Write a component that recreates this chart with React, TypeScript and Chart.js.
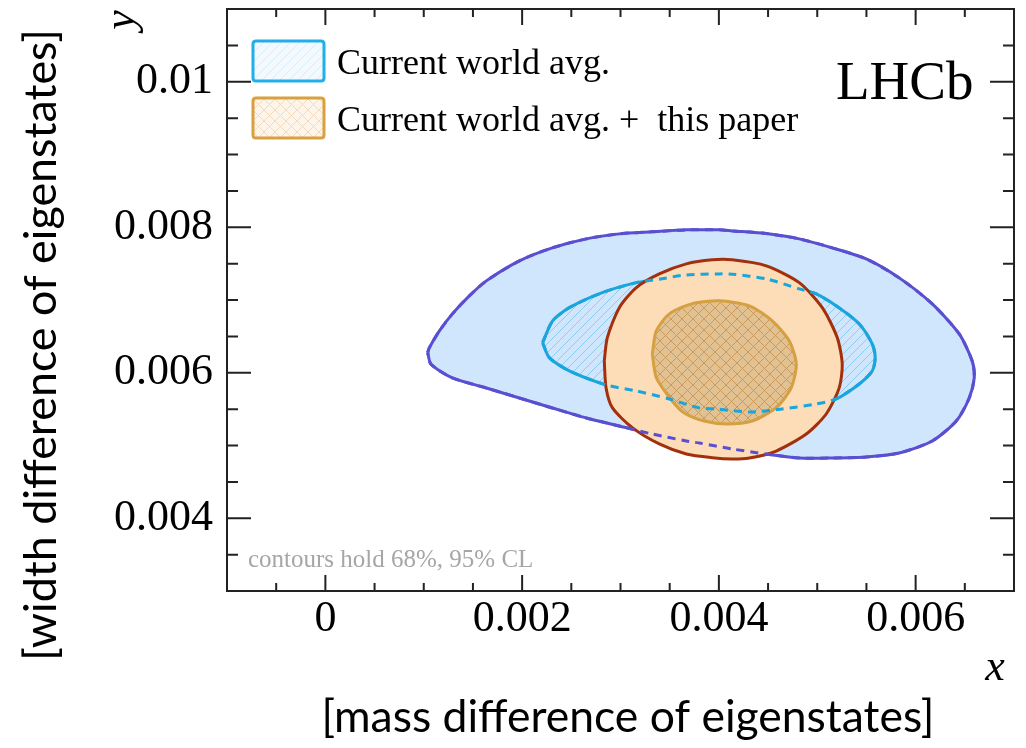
import React, { useEffect, useRef } from 'react';
import { Chart, registerables } from 'chart.js';

Chart.register(...registerables);

// ---- axes ----
const X_MIN = -0.001;
const X_MAX = 0.007;
const Y_MIN = 0.003;
const Y_MAX = 0.011;
const X_TICK_VALUES = [0, 0.002, 0.004, 0.006];
const X_TICK_LABELS = ['0', '0.002', '0.004', '0.006'];
const Y_TICK_VALUES = [0.004, 0.006, 0.008, 0.01];
const Y_TICK_LABELS = ['0.004', '0.006', '0.008', '0.01'];
const MINOR_STEP = 0.0005;

// ---- texts ----
const X_TITLE = 'x';
const Y_TITLE = 'y';
const X_OUTER_LABEL = '[mass difference of eigenstates]';
const Y_OUTER_LABEL = '[width difference of eigenstates]';
const LEGEND_LABELS = ['Current world avg.', 'Current world avg. +  this paper'];
const EXPERIMENT = 'LHCb';
const NOTE = 'contours hold 68%, 95% CL';

// ---- contours: current world average, 95% CL ----
const WA95_X = [0.00104, 0.001057, 0.001159, 0.001291, 0.001463, 0.001636, 0.001972, 0.002307, 0.002652, 0.002988, 0.003323, 0.003669, 0.004004, 0.004136, 0.004482, 0.004817, 0.005152, 0.005498, 0.005833, 0.006169, 0.006443, 0.006575, 0.006596, 0.006545, 0.006413, 0.006169, 0.005833, 0.005498, 0.005152, 0.004817, 0.004482, 0.004136, 0.003801, 0.003669, 0.003323, 0.002988, 0.002652, 0.002307, 0.001972, 0.001636, 0.001291, 0.001074, 0.00104];
const WA95_Y = [0.006276, 0.006345, 0.006575, 0.006809, 0.007056, 0.007263, 0.007538, 0.007717, 0.00784, 0.007909, 0.007937, 0.007964, 0.007964, 0.00795, 0.007913, 0.00784, 0.007717, 0.007565, 0.007304, 0.006946, 0.006534, 0.006162, 0.005928, 0.005653, 0.005337, 0.005062, 0.004897, 0.004842, 0.004828, 0.004828, 0.004883, 0.004952, 0.005034, 0.005062, 0.005158, 0.005268, 0.005378, 0.005516, 0.005653, 0.005791, 0.005928, 0.006117, 0.006276];

// ---- contours: current world average, 68% CL ----
const WA68_X = [0.002208, 0.00231, 0.00248, 0.002815, 0.003161, 0.003394, 0.003669, 0.004004, 0.004136, 0.004482, 0.004817, 0.00499, 0.005224, 0.005427, 0.005559, 0.005589, 0.005559, 0.005427, 0.005193, 0.00499, 0.004644, 0.004309, 0.003974, 0.003801, 0.003496, 0.003161, 0.002856, 0.00248, 0.002276, 0.002208];
const WA68_Y = [0.006414, 0.006713, 0.006895, 0.007102, 0.007239, 0.007286, 0.007345, 0.007359, 0.007355, 0.00729, 0.007153, 0.007084, 0.006891, 0.006671, 0.006396, 0.006204, 0.006025, 0.005846, 0.00564, 0.005571, 0.005502, 0.005461, 0.005502, 0.005516, 0.00564, 0.00575, 0.005832, 0.006025, 0.006208, 0.006414];

// ---- contours: world average + this paper, 95% CL ----
const NEW95_X = [0.002835, 0.002866, 0.002988, 0.003161, 0.003394, 0.003669, 0.003933, 0.004136, 0.004482, 0.004817, 0.005051, 0.005203, 0.005254, 0.005224, 0.005091, 0.004888, 0.004583, 0.004309, 0.004136, 0.003933, 0.003669, 0.003394, 0.00312, 0.002917, 0.002853, 0.002835];
const NEW95_Y = [0.006162, 0.006483, 0.006895, 0.007171, 0.007359, 0.007497, 0.007552, 0.007552, 0.007469, 0.007239, 0.006895, 0.006483, 0.006121, 0.005795, 0.005433, 0.005158, 0.004924, 0.004828, 0.004814, 0.004832, 0.004883, 0.005021, 0.005245, 0.00552, 0.005795, 0.006162];

// ---- contours: world average + this paper, 68% CL ----
const NEW68_X = [0.003323, 0.003364, 0.003496, 0.00373, 0.004004, 0.004309, 0.004543, 0.004716, 0.004787, 0.004736, 0.004583, 0.004339, 0.004075, 0.003852, 0.003648, 0.003526, 0.003364, 0.003323];
const NEW68_Y = [0.006259, 0.006575, 0.006809, 0.00695, 0.006988, 0.006919, 0.006713, 0.006437, 0.006121, 0.005795, 0.00552, 0.005337, 0.005296, 0.005337, 0.005447, 0.005612, 0.005933, 0.006259];

const toPoints = (xs: number[], ys: number[]) => xs.map((x, i) => ({ x, y: ys[i] }));

const SERIF = "'Liberation Serif', 'Times New Roman', serif";
const SANS = "Lato, 'Open Sans', sans-serif";

const C_PURPLE = '#5a4fd1';
const C_CYAN = '#1aa5dd';
const C_RED = '#a2300c';
const C_GOLD = '#d4a040';
const C_BLUE_FILL = '#cfe6fc';
const C_PEACH_FILL = '#fddcb8';

function makePattern(bg: string, line: string, s: number, cross: boolean, lw = 1) {
  const c = document.createElement('canvas');
  c.width = s;
  c.height = s;
  const g = c.getContext('2d')!;
  g.fillStyle = bg;
  g.fillRect(0, 0, s, s);
  g.strokeStyle = line;
  g.lineWidth = lw;
  g.beginPath();
  g.moveTo(-1, s + 1);
  g.lineTo(s + 1, -1);
  g.moveTo(-2, 2);
  g.lineTo(2, -2);
  g.moveTo(s - 2, s + 2);
  g.lineTo(s + 2, s - 2);
  if (cross) {
    g.moveTo(-1, -1);
    g.lineTo(s + 1, s + 1);
    g.moveTo(s - 2, -2);
    g.lineTo(s + 2, 2);
    g.moveTo(-2, s - 2);
    g.lineTo(2, s + 2);
  }
  g.stroke();
  const p = g.createPattern(c, 'repeat');
  return p as CanvasPattern;
}

function roundRect(ctx: CanvasRenderingContext2D, x: number, y: number, w: number, h: number, r: number) {
  ctx.beginPath();
  ctx.moveTo(x + r, y);
  ctx.lineTo(x + w - r, y);
  ctx.quadraticCurveTo(x + w, y, x + w, y + r);
  ctx.lineTo(x + w, y + h - r);
  ctx.quadraticCurveTo(x + w, y + h, x + w - r, y + h);
  ctx.lineTo(x + r, y + h);
  ctx.quadraticCurveTo(x, y + h, x, y + h - r);
  ctx.lineTo(x, y + r);
  ctx.quadraticCurveTo(x, y, x + r, y);
  ctx.closePath();
}

export default function App() {
  const ref = useRef<HTMLCanvasElement>(null);

  useEffect(() => {
    const canvas = ref.current;
    if (!canvas) return;

    const blueHatch = makePattern(C_BLUE_FILL, '#8fcdf0', 9, false);
    const brownCross = makePattern('#e2c192', '#c99a5c', 11, true);
    const legendBlue = makePattern('#f3f9fe', '#d7ecf9', 9, false);
    const legendOrange = makePattern('#fdf4ea', '#f3d9bd', 11, true);

    const decor = {
      id: 'decor',
      afterDraw(chart: any) {
        const { ctx, chartArea: a, scales } = chart;
        const xs = scales.x;
        const ys = scales.y;
        ctx.save();
        // ticks
        ctx.strokeStyle = '#222';
        ctx.lineWidth = 2;
        ctx.beginPath();
        const nX = Math.round((X_MAX - X_MIN) / MINOR_STEP);
        for (let i = 1; i < nX; i++) {
          const v = X_MIN + i * MINOR_STEP;
          const major = X_TICK_VALUES.some((t) => Math.abs(t - v) < 1e-9);
          const len = major ? 16 : 8;
          const px = xs.getPixelForValue(v);
          ctx.moveTo(px, a.bottom);
          ctx.lineTo(px, a.bottom - len);
          ctx.moveTo(px, a.top);
          ctx.lineTo(px, a.top + len);
        }
        const nY = Math.round((Y_MAX - Y_MIN) / MINOR_STEP);
        for (let i = 1; i < nY; i++) {
          const v = Y_MIN + i * MINOR_STEP;
          const major = Y_TICK_VALUES.some((t) => Math.abs(t - v) < 1e-9);
          const len = major ? 24 : 11;
          const py = ys.getPixelForValue(v);
          ctx.moveTo(a.left, py);
          ctx.lineTo(a.left + len, py);
          ctx.moveTo(a.right, py);
          ctx.lineTo(a.right - len, py);
        }
        ctx.stroke();
        // frame
        ctx.strokeStyle = '#222';
        ctx.lineWidth = 2;
        ctx.strokeRect(a.left, a.top, a.right - a.left, a.bottom - a.top);

        // legend
        const boxes = [
          { y: 41, stroke: '#22aee6', fill: legendBlue },
          { y: 98, stroke: '#d9a040', fill: legendOrange },
        ];
        ctx.font = `36px ${SERIF}`;
        ctx.textAlign = 'left';
        ctx.textBaseline = 'alphabetic';
        boxes.forEach((b, i) => {
          roundRect(ctx, 253, b.y, 71, 40, 3);
          ctx.fillStyle = b.fill;
          ctx.fill();
          ctx.lineWidth = 3;
          ctx.strokeStyle = b.stroke;
          ctx.stroke();
          ctx.fillStyle = '#000';
          ctx.fillText(LEGEND_LABELS[i], 337, b.y + 33);
        });

        // experiment label
        ctx.font = `55px ${SERIF}`;
        ctx.fillStyle = '#000';
        ctx.fillText(EXPERIMENT, 836, 99);

        // note
        ctx.font = `25px ${SERIF}`;
        ctx.fillStyle = '#a6a6a6';
        ctx.fillText(NOTE, 248, 567);

        // axis titles
        ctx.fillStyle = '#000';
        ctx.font = `italic 44px ${SERIF}`;
        ctx.textAlign = 'center';
        ctx.textBaseline = 'middle';
        ctx.fillText(X_TITLE, 995, 668);
        ctx.save();
        ctx.translate(122, 20);
        ctx.rotate(-Math.PI / 2);
        ctx.fillText(Y_TITLE, 0, 0);
        ctx.restore();

        // outer labels (fit to width)
        ctx.font = `100px ${SANS}`;
        const wB = ctx.measureText(X_OUTER_LABEL).width;
        ctx.font = `${(100 * 613) / wB}px ${SANS}`;
        ctx.fillText(X_OUTER_LABEL, 628, 718);
        ctx.font = `100px ${SANS}`;
        const wL = ctx.measureText(Y_OUTER_LABEL).width;
        ctx.font = `${(100 * 632) / wL}px ${SANS}`;
        ctx.save();
        ctx.translate(42, 345);
        ctx.rotate(-Math.PI / 2);
        ctx.fillText(Y_OUTER_LABEL, 0, 0);
        ctx.restore();

        ctx.restore();
      },
    };

    const base = { pointRadius: 0, pointHoverRadius: 0, tension: 0.25, showLine: true };

    const chart = new Chart(canvas, {
      type: 'scatter',
      data: {
        datasets: [
          {
            ...base,
            label: 'world avg. 95% (hidden part)',
            data: toPoints(WA95_X, WA95_Y),
            borderColor: C_PURPLE,
            borderWidth: 3,
            borderDash: [8, 6],
            fill: false,
          },
          {
            ...base,
            label: 'world avg. 68% (hidden part)',
            data: toPoints(WA68_X, WA68_Y),
            borderColor: C_CYAN,
            borderWidth: 3,
            borderDash: [8, 6],
            fill: false,
          },
          {
            ...base,
            label: 'world avg. + this paper 68%',
            data: toPoints(NEW68_X, NEW68_Y),
            borderColor: C_GOLD,
            borderWidth: 3,
            backgroundColor: brownCross,
            fill: 'shape',
          },
          {
            ...base,
            label: 'world avg. + this paper 95%',
            data: toPoints(NEW95_X, NEW95_Y),
            borderColor: C_RED,
            borderWidth: 3,
            backgroundColor: C_PEACH_FILL,
            fill: 'shape',
          },
          {
            ...base,
            label: 'world avg. 68%',
            data: toPoints(WA68_X, WA68_Y),
            borderColor: C_CYAN,
            borderWidth: 3,
            backgroundColor: blueHatch,
            fill: 'shape',
          },
          {
            ...base,
            label: 'world avg. 95%',
            data: toPoints(WA95_X, WA95_Y),
            borderColor: C_PURPLE,
            borderWidth: 3,
            backgroundColor: C_BLUE_FILL,
            fill: 'shape',
          },
        ],
      },
      options: {
        responsive: false,
        animation: false,
        events: [],
        layout: { padding: { left: 0, top: 9, right: 12, bottom: 0 } },
        plugins: {
          legend: { display: false },
          tooltip: { enabled: false },
          title: { display: false },
        },
        scales: {
          x: {
            type: 'linear',
            min: X_MIN,
            max: X_MAX,
            grid: { display: false, drawTicks: false },
            border: { display: false },
            afterBuildTicks: (s: any) => {
              s.ticks = X_TICK_VALUES.map((v) => ({ value: v }));
            },
            afterFit: (s: any) => {
              s.height = 157;
              s.paddingLeft = 0;
              s.paddingRight = 0;
            },
            ticks: {
              padding: 2,
              maxRotation: 0,
              autoSkip: false,
              color: '#000',
              font: { family: SERIF, size: 44 },
              callback: (v: any) => {
                const i = X_TICK_VALUES.findIndex((t) => Math.abs(t - Number(v)) < 1e-9);
                return i >= 0 ? X_TICK_LABELS[i] : '';
              },
            },
          },
          y: {
            type: 'linear',
            min: Y_MIN,
            max: Y_MAX,
            grid: { display: false, drawTicks: false },
            border: { display: false },
            afterBuildTicks: (s: any) => {
              s.ticks = Y_TICK_VALUES.map((v) => ({ value: v }));
            },
            afterFit: (s: any) => {
              s.width = 227;
              s.paddingTop = 0;
              s.paddingBottom = 0;
            },
            ticks: {
              padding: 14,
              autoSkip: false,
              color: '#000',
              font: { family: SERIF, size: 44 },
              callback: (v: any) => {
                const i = Y_TICK_VALUES.findIndex((t) => Math.abs(t - Number(v)) < 1e-9);
                return i >= 0 ? Y_TICK_LABELS[i] : '';
              },
            },
          },
        },
      },
      plugins: [decor],
    } as any);

    return () => chart.destroy();
  }, []);

  return (
    <div style={{ position: 'fixed', left: 0, top: 0, width: 1026, height: 748, background: '#fff' }}>
      <canvas ref={ref} width={1026} height={748} style={{ display: 'block', width: 1026, height: 748 }} />
    </div>
  );
}
